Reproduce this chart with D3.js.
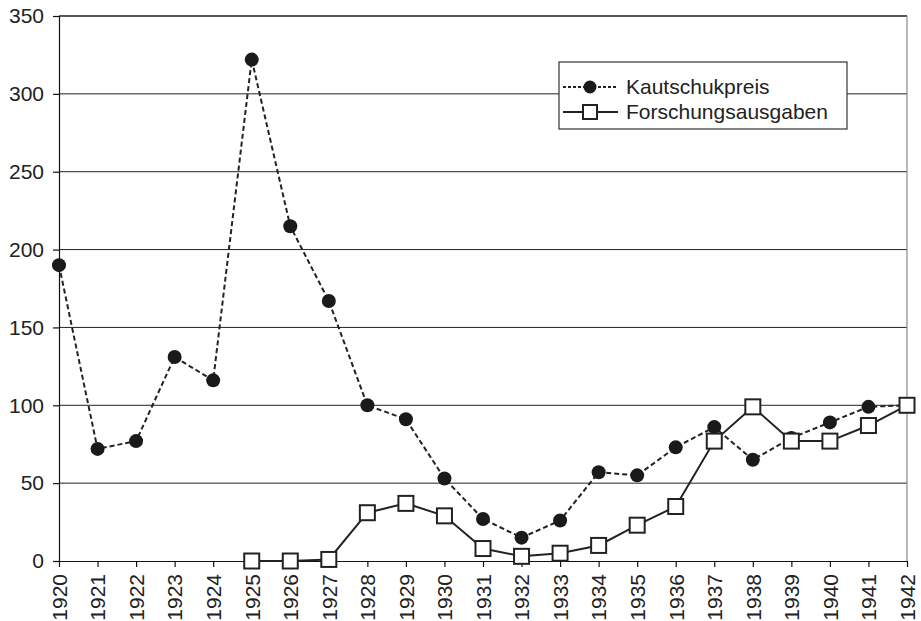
<!DOCTYPE html>
<meta charset="utf-8">
<head>
  <script src="https://d3js.org/d3.v7.min.js"></script>
  <style>
    body { margin: 0; background: #fff; }
    text { font-family: "Liberation Sans", Arial, sans-serif; }
  </style>
</head>
<body>
<div id="chart"></div>
<script>
  // data
  const years = d3.range(1920, 1943);
  const kautschukpreis = [190, 72, 77, 131, 116, 322, 215, 167, 100, 91, 53, 27, 15, 26, 57, 55, 73, 86, 65, 79, 89, 99, 100];
  const forschungsausgaben = [null, null, null, null, null, 0, 0, 1, 31, 37, 29, 8, 3, 5, 10, 23, 35, 77, 99, 77, 77, 87, 100];
  const yTicks = [0, 50, 100, 150, 200, 250, 300, 350];
  const seriesNames = ["Kautschukpreis", "Forschungsausgaben"];

  const W = 921, H = 621;
  const margin = {top: 16, right: 14, bottom: 60, left: 59};
  const fs = 21;

  const svg = d3.select("#chart").append("svg")
    .attr("width", W).attr("height", H);

  const x = d3.scalePoint().domain(years).range([margin.left, W - margin.right]);
  const y = d3.scaleLinear().domain([0, 350]).range([H - margin.bottom, margin.top]);

  // gridlines
  svg.append("g")
    .selectAll("line")
    .data(yTicks.filter(d => d > 0))
    .join("line")
    .attr("x1", margin.left).attr("x2", W - margin.right)
    .attr("y1", d => y(d)).attr("y2", d => y(d))
    .attr("stroke", "#222").attr("stroke-width", d => d === 350 ? 1.6 : 1);

  // right border
  svg.append("line")
    .attr("x1", W - margin.right).attr("x2", W - margin.right)
    .attr("y1", y(350)).attr("y2", y(0))
    .attr("stroke", "#888").attr("stroke-width", 1.2);

  // y axis
  const yAxis = svg.append("g")
    .attr("transform", `translate(${margin.left},0)`)
    .call(d3.axisLeft(y).tickValues(yTicks).tickSize(6).tickPadding(9));
  yAxis.selectAll("path, line").attr("stroke", "#111").attr("stroke-width", 1.2);
  yAxis.selectAll("text").attr("font-size", fs).attr("fill", "#222")
    .style("font-family", "Liberation Sans, Arial, sans-serif");

  // x axis
  const xAxis = svg.append("g")
    .attr("transform", `translate(0,${y(0)})`)
    .call(d3.axisBottom(x).tickSize(6).tickSizeOuter(0));
  xAxis.selectAll("path, line").attr("stroke", "#111").attr("stroke-width", 1.2);
  xAxis.selectAll("text")
    .attr("font-size", fs).attr("fill", "#222")
    .style("font-family", "Liberation Sans, Arial, sans-serif")
    .attr("transform", "rotate(-90)")
    .attr("text-anchor", "end")
    .attr("x", -13).attr("y", 0).attr("dy", "0.35em");

  // lines
  const line = d3.line()
    .defined(d => d[1] != null)
    .x(d => x(d[0])).y(d => y(d[1]));

  const kData = years.map((yr, i) => [yr, kautschukpreis[i]]);
  const fData = years.map((yr, i) => [yr, forschungsausgaben[i]]);

  svg.append("path").datum(kData)
    .attr("d", line).attr("fill", "none")
    .attr("stroke", "#222").attr("stroke-width", 2)
    .attr("stroke-dasharray", "5,3");

  svg.append("path").datum(fData)
    .attr("d", line).attr("fill", "none")
    .attr("stroke", "#222").attr("stroke-width", 2);

  // markers
  svg.append("g").selectAll("circle")
    .data(kData)
    .join("circle")
    .attr("cx", d => x(d[0])).attr("cy", d => y(d[1]))
    .attr("r", 7).attr("fill", "#1a1a1a");

  const sq = 15;
  svg.append("g").selectAll("rect")
    .data(fData.filter(d => d[1] != null))
    .join("rect")
    .attr("x", d => x(d[0]) - sq / 2).attr("y", d => y(d[1]) - sq / 2)
    .attr("width", sq).attr("height", sq)
    .attr("fill", "#fff").attr("stroke", "#222").attr("stroke-width", 2);

  // legend
  const lg = svg.append("g");
  lg.append("rect")
    .attr("x", 559).attr("y", 62).attr("width", 288).attr("height", 67)
    .attr("fill", "#fff").attr("stroke", "#333").attr("stroke-width", 1.2);

  const rows = [87, 112];
  seriesNames.forEach((name, i) => {
    const ry = rows[i];
    lg.append("line")
      .attr("x1", 563).attr("x2", 618).attr("y1", ry).attr("y2", ry)
      .attr("stroke", "#222").attr("stroke-width", 2)
      .attr("stroke-dasharray", i === 0 ? "3,2" : null);
    if (i === 0) {
      lg.append("circle").attr("cx", 590).attr("cy", ry).attr("r", 6.5).attr("fill", "#1a1a1a");
    } else {
      lg.append("rect").attr("x", 590 - 14 / 2).attr("y", ry - 14 / 2)
        .attr("width", 14).attr("height", 14)
        .attr("fill", "#fff").attr("stroke", "#222").attr("stroke-width", 2);
    }
    lg.append("text")
      .attr("x", 626).attr("y", ry).attr("dy", "0.35em")
      .attr("font-size", fs).attr("fill", "#222")
      .text(name);
  });
</script>
</body>
